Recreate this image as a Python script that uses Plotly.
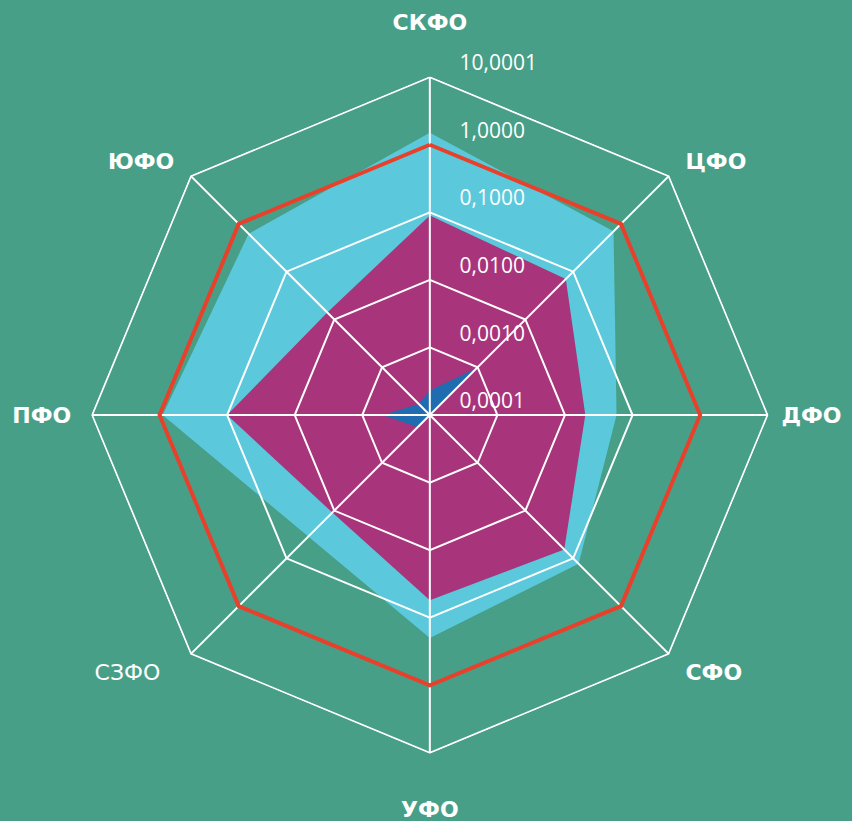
import plotly.graph_objects as go

categories = ["СКФО", "ЦФО", "ДФО", "СФО", "УФО", "СЗФО", "ПФО", "ЮФО"]
category_labels = ["<b>СКФО</b><br> ", "&nbsp;<b>ЦФО</b>", "<b>ДФО</b>", "&nbsp;<b>СФО</b><br> ",
                   " <br><b>УФО</b>", "СЗФО&nbsp;&nbsp;&nbsp;<br> ", "<b>ПФО</b>&nbsp;", "<b>ЮФО</b>&nbsp;"]

cyan_values = [1.5, 0.7, 0.058, 0.13, 0.2, 0.035, 0.9, 0.62]
magenta_values = [0.09, 0.07, 0.02, 0.065, 0.055, 0.011, 0.1, 0.014]
blue_values = [0.00023, 0.00095, 0.0001, 0.0001, 0.0001, 0.00018, 0.0005, 0.00017]
red_values = [1.0, 1.0, 1.0, 1.0, 1.0, 1.0, 1.0, 1.0]

tick_values = [0.0001, 0.001, 0.01, 0.1, 1.0, 10.0001]
tick_labels = ["0,0001", "0,0010", "0,0100", "0,1000", "1,0000", "10,0001"]

BG = "#489F87"
GRID = "white"


def closed(v):
    return list(v) + [v[0]]


theta = closed(categories)

fig = go.Figure()
fig.add_trace(go.Scatterpolar(r=closed(cyan_values), theta=theta, fill="toself",
                              fillcolor="#5BC9DB", line=dict(color="#5BC9DB", width=0),
                              mode="lines", name="cyan"))
fig.add_trace(go.Scatterpolar(r=closed(magenta_values), theta=theta, fill="toself",
                              fillcolor="#A8357B", line=dict(color="#A8357B", width=0),
                              mode="lines", name="magenta"))
fig.add_trace(go.Scatterpolar(r=closed(blue_values), theta=theta, fill="toself",
                              fillcolor="#1F6CB0", line=dict(color="#1F6CB0", width=0),
                              mode="lines", name="blue"))

# grid drawn above the filled areas (rings at tick values, spokes per category)
for tv in tick_values:
    fig.add_trace(go.Scatterpolar(r=[tv] * len(theta), theta=theta, mode="lines",
                                  line=dict(color=GRID, width=2), hoverinfo="skip",
                                  cliponaxis=False))
for c in categories:
    fig.add_trace(go.Scatterpolar(r=[tick_values[0], tick_values[-1]], theta=[c, c], mode="lines",
                                  line=dict(color=GRID, width=2), hoverinfo="skip",
                                  cliponaxis=False))

fig.add_trace(go.Scatterpolar(r=closed(red_values), theta=theta, mode="lines",
                              line=dict(color="#E8412B", width=4), name="red"))

fig.update_layout(
    width=852, height=821,
    paper_bgcolor=BG,
    plot_bgcolor=BG,
    showlegend=False,
    margin=dict(l=0, r=0, t=0, b=0),
    polar=dict(
        domain=dict(x=[0.107, 0.902], y=[0.082, 0.907]),
        bgcolor=BG,
        gridshape="linear",
        radialaxis=dict(
            type="log",
            range=[-4, 1.012],
            tickvals=tick_values,
            ticktext=[t + "<br> " for t in tick_labels],
            angle=90,
            tickangle=90,
            side="clockwise",
            showline=False,
            showgrid=False,
            ticks="outside",
            ticklen=25,
            tickcolor="rgba(0,0,0,0)",
            tickfont=dict(family="Open Sans", size=21, color="white"),
            layer="above traces",
        ),
        angularaxis=dict(
            type="category",
            categoryarray=categories,
            tickvals=categories,
            ticktext=category_labels,
            direction="clockwise",
            rotation=90,
            showline=False,
            showgrid=False,
            ticks="outside",
            ticklen=8,
            tickcolor="rgba(0,0,0,0)",
            tickfont=dict(family="DejaVu Sans", size=22, color="white"),
            layer="above traces",
        ),
    ),
)

fig.write_html("out.html", config={"displayModeBar": False},
               post_script="document.body.style.margin='0';document.body.style.background='" + BG + "';")
